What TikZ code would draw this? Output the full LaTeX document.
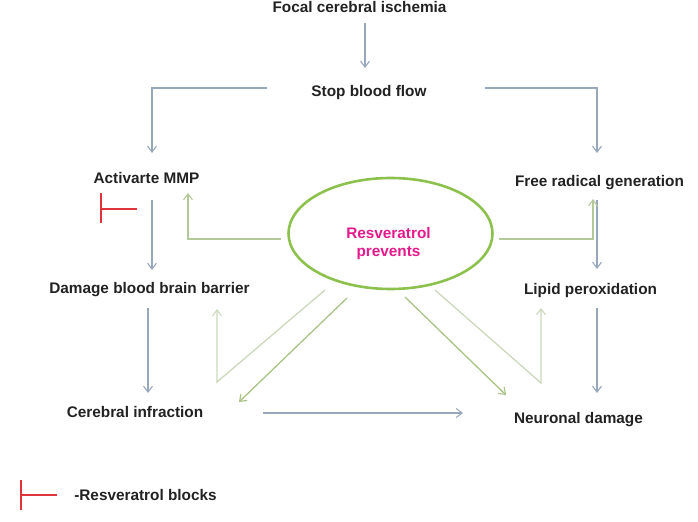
\documentclass[tikz,border=0pt]{standalone}
\usepackage{fontspec}
\setmainfont{Liberation Sans}
\usetikzlibrary{arrows.meta,shapes.geometric}
\definecolor{bluegrey}{HTML}{97A8BD}
\definecolor{greenA}{HTML}{B4C99A}
\definecolor{greenB}{HTML}{CBD8BC}
\definecolor{greenC}{HTML}{A9C285}
\definecolor{ellcol}{HTML}{8DC14D}
\definecolor{redT}{HTML}{E0343A}
\definecolor{txt}{HTML}{222222}
\definecolor{magtxt}{HTML}{E5198C}
\begin{document}
\begin{tikzpicture}[x=1bp,y=-1bp,
  lbl/.style={font=\fontsize{15.4}{18}\selectfont\bfseries, text=txt, inner sep=0pt, anchor=base},
  mag/.style={font=\fontsize{15.4}{18}\selectfont\bfseries, text=magtxt, inner sep=0pt, anchor=base},
  barb/.style={-{Straight Barb[length=6bp,width=9bp,line width=1.1bp]}},
  bluearr/.style={draw=bluegrey, line width=1.3bp, barb},
  grnarr/.style={draw=greenA, line width=1.3bp, barb},
  grnlight/.style={draw=greenB, line width=1.3bp, barb},
  grndark/.style={draw=greenC, line width=1.3bp, barb},
  tbar/.style={draw=redT, line width=2.6bp}]
\useasboundingbox (0,0) rectangle (698,522);

% text nodes
\node[lbl] (focal) at (359.5,13) {Focal cerebral ischemia};
\node[lbl] (stop) at (369,97) {Stop blood flow};
\node[lbl] (mmp) at (146.5,183.5) {Activarte MMP};
\node[lbl] (bbb) at (149.5,293.5) {Damage blood brain barrier};
\node[lbl] (cer) at (135,417.5) {Cerebral infraction};
\node[lbl] (free) at (599.5,187) {Free radical generation};
\node[lbl] (lipid) at (590.5,294) {Lipid peroxidation};
\node[lbl] (neur) at (578.5,423.5) {Neuronal damage};
\node[lbl] (legend) at (145.5,500) {-Resveratrol blocks};

% ellipse
\node[ellipse, draw=ellcol, line width=2.6bp, minimum width=204bp, minimum height=111bp, inner sep=0pt] (res) at (390.5,233.5) {};
\node[mag] (res1) at (388.5,238.5) {Resveratrol};
\node[mag] (res2) at (388.5,256.5) {prevents};

% coordinates
\coordinate (f1) at (365,23);  \coordinate (f2) at (365,68);
\coordinate (sl) at (267,88);  \coordinate (slc) at (152,88); \coordinate (sle) at (152,153);
\coordinate (sr) at (485,88);  \coordinate (src) at (597,88); \coordinate (sre) at (597,153);
\coordinate (m1) at (152,200); \coordinate (m2) at (152,270);
\coordinate (b1) at (148,308); \coordinate (b2) at (148,393);
\coordinate (r1) at (597,200); \coordinate (r2) at (597,269);
\coordinate (l1) at (597,308); \coordinate (l2) at (597,393);
\coordinate (c1) at (263,413); \coordinate (c2) at (463,413);

\coordinate (g1s) at (281,239); \coordinate (g1c) at (188,239); \coordinate (g1e) at (188,193);
\coordinate (g2s) at (499,239); \coordinate (g2c) at (593,239); \coordinate (g2e) at (593,199);
\coordinate (g3s) at (325,290); \coordinate (g3c) at (217,382); \coordinate (g3e) at (217,309);
\coordinate (g4s) at (347,298); \coordinate (g4e) at (239,402);
\coordinate (g5s) at (405,297); \coordinate (g5e) at (506,395);
\coordinate (g6s) at (435,290); \coordinate (g6c) at (541,383); \coordinate (g6e) at (541,308);

% blue arrows
\draw[bluearr] (f1) -- (f2);
\draw[bluearr] (sl) -- (slc) -- (sle);
\draw[bluearr] (sr) -- (src) -- (sre);
\draw[bluearr] (m1) -- (m2);
\draw[bluearr] (b1) -- (b2);
\draw[bluearr] (r1) -- (r2);
\draw[bluearr] (l1) -- (l2);
\draw[bluearr] (c1) -- (c2);

% green arrows
\draw[grnarr] (g1s) -- (g1c) -- (g1e);
\draw[grnarr] (g2s) -- (g2c) -- (g2e);
\draw[grnlight] (g3s) -- (g3c) -- (g3e);
\draw[grndark] (g4s) -- (g4e);
\draw[grndark] (g5s) -- (g5e);
\draw[grnlight] (g6s) -- (g6c) -- (g6e);

% red blocks
\coordinate (t1a) at (101,193); \coordinate (t1b) at (101,223);
\coordinate (t1m) at (101,209); \coordinate (t1e) at (137,209);
\draw[tbar] (t1a) -- (t1b) (t1m) -- (t1e);
\coordinate (t2a) at (21,480); \coordinate (t2b) at (21,510);
\coordinate (t2m) at (21,495); \coordinate (t2e) at (57,495);
\draw[tbar] (t2a) -- (t2b) (t2m) -- (t2e);
\end{tikzpicture}
\end{document}
